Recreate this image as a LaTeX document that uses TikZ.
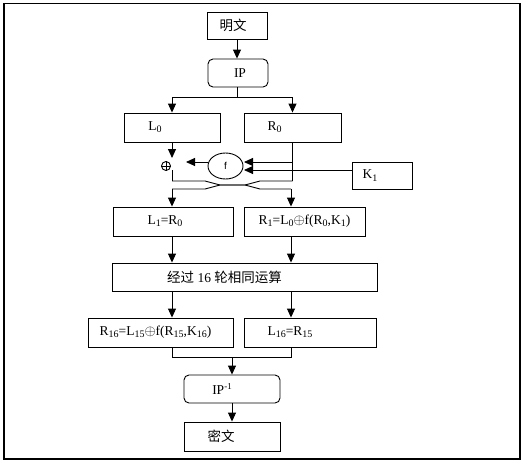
\documentclass[tikz,border=0pt]{standalone}
\usepackage{fontspec}
\setmainfont{Liberation Serif}
\newfontfamily\cjk{Noto Sans CJK SC}
\newfontfamily\sansf{Liberation Sans}
\usetikzlibrary{arrows.meta,shapes.geometric}
\newcommand\sbs[1]{\raisebox{-0.35ex}{\fontsize{10}{10}\selectfont #1}}
\newcommand\sps[1]{\raisebox{0.75ex}{\fontsize{9}{9}\selectfont #1}}
\newcommand\xo{\ensuremath{\oplus}}
\tikzset{
  box/.style={draw, line width=0.9pt, minimum height=29pt, inner sep=0pt,
              font=\fontsize{13.5}{14}\selectfont},
  rbox/.style={box, rounded corners=5pt},
  arr/.style={line width=0.9pt, -{Triangle[width=8pt,length=9pt]}},
  ln/.style={line width=0.9pt},
}
\begin{document}
\begin{tikzpicture}[x=1pt,y=-1pt]
\useasboundingbox (0,0) rectangle (527,461);
\draw[line width=1.5pt] (4,3.5) rectangle (520,459);

% boxes
\node[box, minimum width=60pt, minimum height=27pt] (pt) at (237,25.5) {{\cjk 明文}\hspace*{8pt}};
\node[rbox, minimum width=60pt, minimum height=28pt] (ip) at (238,73) {\hspace*{4pt}IP};
\node[box, minimum width=96pt] (l0) at (172,127.5) {L\sbs{0}\hspace*{34pt}};
\node[box, minimum width=97pt] (r0) at (292.5,127.5) {R\sbs{0}\hspace*{36pt}};
\node[box, minimum width=60pt, minimum height=27pt] (k1) at (382,175.5) {K\sbs{1}\hspace*{24pt}};
\node[draw, ln, ellipse, minimum width=35pt, minimum height=26pt, inner sep=0pt,
      font=\sansf\fontsize{10}{10}\selectfont] (f) at (225.5,166) {f};
\node[draw, ln, circle, minimum size=9pt, inner sep=0pt] (xor) at (166,166) {};
\draw[line width=0.7pt] (xor.north) -- (xor.south) (xor.west) -- (xor.east);

\node[box, minimum width=120pt] (l1) at (173,221.5) {L\sbs{1}=R\sbs{0}\hspace*{16pt}};
\node[box, minimum width=121pt] (r1) at (304.5,221.5) {R\sbs{1}=L\sbs{0}\xo f(R\sbs{0},K\sbs{1})};
\node[box, minimum width=265pt, minimum height=28pt] (big) at (244.5,277)
  {{\cjk 经过} 16 {\cjk 轮相同运算}\hspace*{40pt}};
\node[box, minimum width=145pt] (r16) at (160.5,332.5)
  {R\sbs{16}=L\sbs{15}\xo f(R\sbs{15},K\sbs{16})\hspace*{10pt}};
\node[box, minimum width=132pt] (l16) at (310,332.5) {L\sbs{16}=R\sbs{15}\hspace*{40pt}};
\node[rbox, minimum width=96pt, minimum height=28pt] (ipi) at (232,389) {IP\sps{-1}\hspace*{20pt}};
\node[box, minimum width=96pt] (ct) at (232,436.5) {{\cjk 密文}\hspace*{22pt}};

% coordinates
\coordinate (j1) at (237,97);
\coordinate (xin) at (172,158);
\coordinate (xout) at (172,170);
\coordinate (fo) at (186,162);
\coordinate (rj) at (292.5,162);
\coordinate (fr1) at (244,162);
\coordinate (fr2) at (244,170);
\coordinate (ca) at (172,181);
\coordinate (cb) at (292.5,181);
\coordinate (cc) at (172,189);
\coordinate (cd) at (291,189);
\coordinate (mj) at (232,357);

% connectors
\draw[arr] (pt.south) -- (pt.south |- ip.north);
\draw[ln] (ip.south -| j1) -- (j1);
\draw[arr] (j1) -| (l0.north);
\draw[arr] (j1) -| (r0.north);
\draw[arr] (l0.south) -- (xin);
\draw[arr] (f.west |- fo) -- (fo);
\draw[ln] (r0.south) -- (cb);
\draw[arr] (rj) -- (fr1);
\draw[arr] (k1.west |- fr2) -- (fr2);
\draw[ln] (xout) -- (ca);
\draw[ln] (ca) -- (205,181) -- (220,185) -- (245,185) -- (260,189) -- (cd);
\draw[ln] (cb) -- (260,181) -- (245,185) -- (220,185) -- (205,189) -- (cc);
\draw[arr] (cc) -- (cc |- l1.north);
\draw[arr] (cd) -- (cd |- r1.north);
\draw[arr] (cc |- l1.south) -- (cc |- big.north);
\draw[arr] (cd |- r1.south) -- (cd |- big.north);
\draw[arr] (cc |- big.south) -- (cc |- r16.north);
\draw[arr] (cd |- big.south) -- (cd |- l16.north);
\draw[ln] (cc |- r16.south) -- (cc |- mj) -- (mj -| cd) -- (cd |- l16.south);
\draw[arr] (mj) -- (ipi.north);
\draw[arr] (ipi.south) -- (ct.north);
\end{tikzpicture}
\end{document}
